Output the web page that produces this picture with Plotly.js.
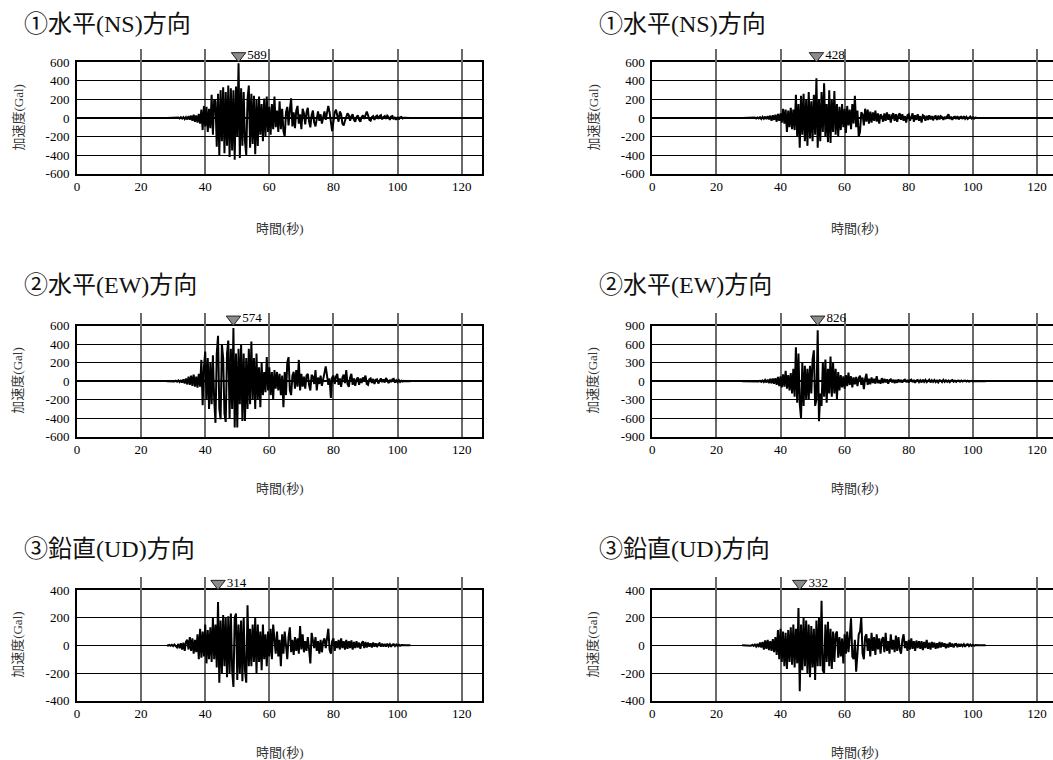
<!DOCTYPE html>
<html><head><meta charset="utf-8">
<script src="https://cdn.plot.ly/plotly-3.0.1.min.js"></script>
<style>html,body{margin:0;padding:0;overflow:hidden;background:#fff}</style>
</head><body><div id="chart" style="width:1060px;height:760px"></div>
<script>
// sampling of the records (seconds)
const T0 = 28.0, DT = 0.4;

// ① 水平(NS) — left record (Gal)
const nsLeft = [
0,0,0,0,0,0,0,2,-3,4,
-5,8,-6,10,-12,9,-15,20,-18,25,
-30,35,-40,28,-50,45,-60,90,-130,130,
-90,120,-150,100,-110,250,-180,200,180,-310,
260,-400,300,-250,330,-380,280,-300,350,-420,
320,-350,300,-450,340,-200,589,-430,320,-300,
280,-250,-400,200,350,-320,260,-280,240,-390,
200,-300,230,-180,150,-250,210,-200,230,-150,
120,-180,150,-120,230,-100,80,-150,180,-120,
100,-140,-200,60,120,-80,90,212,-90,60,
-110,80,130,-60,40,-120,100,50,-70,60,
110,-40,-100,30,80,-50,-90,20,70,-30,
40,-60,20,70,-20,50,130,60,-60,-140,
-40,60,90,30,-40,70,40,-60,-80,-30,
20,50,30,-30,20,40,-20,-40,10,30,
-20,-40,10,30,-10,40,70,30,-20,-30,
10,20,-20,15,25,-10,20,30,-15,10,
20,-10,25,10,-20,15,20,-15,10,-20,
10,-15,8,12,-5,3,2,1,0,0,
0];

// ① 水平(NS) — right record
const nsRight = [
0,0,0,0,0,0,0,0,2,-3,
4,-5,6,-4,8,-10,12,-8,15,-12,
20,-15,25,-30,30,-20,35,-40,45,-30,
50,-50,100,-60,90,-150,80,-100,110,-120,
90,-130,250,-200,150,-320,240,-180,260,-250,
200,-300,280,-220,180,-250,250,-180,428,-320,
200,-250,280,-150,374,-200,150,-260,300,-270,
200,-150,290,-180,150,-200,120,-130,150,-100,
100,-160,130,-80,90,-120,150,-60,240,-100,
80,-200,-150,60,40,-80,100,-40,90,-60,
70,-50,60,-30,80,-40,50,-60,40,20,
-40,50,-30,60,-20,40,-50,30,50,-30,
40,-40,30,50,-20,40,-30,20,-50,30,
40,-30,20,50,-40,30,-20,40,-30,20,
-50,30,20,-30,25,-20,30,-15,20,-25,
15,20,-20,25,-15,20,10,-20,15,-10,
20,40,-10,15,-20,10,15,-10,20,-15,
10,15,-10,20,-8,12,-10,8,15,-5,
8,-6,5,3,-2,1,0,0,0,0,
0];

// ② 水平(EW) — left record
const ewLeft = [
0,0,0,0,0,3,-4,5,-6,8,
-10,12,-15,20,-25,30,-35,50,-40,60,
-50,70,-60,50,-70,80,-60,230,-260,150,
320,-200,250,-300,200,-250,280,-200,-450,300,
490,-300,-410,400,250,-350,-440,300,440,-400,
350,-300,574,-500,300,-500,350,-250,400,-430,
300,-430,250,-300,350,-250,430,-200,250,-300,
300,-200,150,-280,200,-150,100,-120,260,-100,
150,-150,100,-200,120,-80,100,-100,80,-150,
60,-280,100,-150,200,260,-100,-150,60,100,
-80,120,-60,230,-100,80,-60,50,-80,60,
80,-40,-100,70,50,-30,120,-100,40,-30,
60,-50,40,90,160,60,-40,30,-180,40,
60,-30,50,80,-40,30,-60,40,70,-20,
120,-30,-60,40,80,-40,30,-50,20,40,
-40,30,-20,40,20,60,-30,-40,20,30,
-20,25,-30,15,20,-25,10,30,-10,20,
-15,35,10,-20,15,-10,20,25,-15,10,
-10,12,-8,5,-4,3,0,0,0,0,
0];

// ② 水平(EW) — right record
const ewRight = [
0,0,0,0,0,0,0,0,0,0,
3,-4,5,-6,8,-10,12,-15,18,-20,
25,-30,40,-35,45,-40,50,-60,70,-80,
80,-100,110,-90,170,-120,100,-150,130,-200,
200,-250,550,-350,450,-370,-600,300,-400,250,
-300,200,-300,250,-200,350,500,-400,-300,826,
-650,-200,-400,300,-250,350,-350,200,-200,400,
-250,300,-200,200,-290,150,-150,100,-100,80,
-120,100,-80,140,-60,80,-100,60,-50,70,
-80,50,90,-60,60,-130,40,120,-60,40,
-50,60,-30,40,-40,80,-30,20,-40,50,
-30,40,-20,30,-40,20,30,-20,25,-30,
20,-25,30,-15,20,-20,15,25,-15,20,
-20,15,25,-15,20,-25,10,20,-15,15,
-20,25,-10,20,-15,10,25,-20,15,-10,
20,-15,10,-20,15,10,-15,20,-10,15,
-10,12,-15,10,20,-8,10,-12,8,10,
-8,10,-6,8,12,-5,8,-6,5,6,
-4,3,2,0,0,0,0,0,0,0,
0];

// ③ 鉛直(UD) — left record
const udLeft = [
2,-2,3,-3,4,-5,6,-4,-15,10,
-20,15,-30,20,-40,25,40,-30,60,-40,
50,-60,40,-50,80,-100,120,-90,100,-80,
150,-130,110,-100,130,-120,200,-100,150,-160,
314,-270,180,-200,220,-150,200,-230,210,-200,
230,-180,-300,200,230,-250,150,-200,180,-260,
200,-180,-270,290,-150,120,-150,150,-120,200,
-200,150,-120,100,-180,150,-100,80,-150,100,
-80,120,-100,150,60,-60,100,-80,40,-150,
80,-60,100,-40,-100,60,130,-50,40,-70,
60,-40,50,-60,140,-30,80,-50,30,-40,
60,-30,-130,90,40,-20,60,-40,30,-60,
40,-50,30,50,-20,40,120,-30,-60,30,
50,-40,30,-20,40,-30,50,-20,30,-30,
40,-25,30,-20,35,-30,25,-20,30,-15,
20,-25,15,30,-20,25,-15,20,-10,15,
-15,20,-10,15,-12,10,15,-10,12,-8,
10,-8,12,-6,8,-10,6,8,-5,6,
-4,5,-3,2,0,0,0,0,0,0,
0];

// ③ 鉛直(UD) — right record
const udRight = [
0,0,0,0,0,0,2,-3,4,-4,
6,-8,10,-12,20,-15,25,-30,35,-25,
40,-35,30,-40,45,-50,60,-70,110,-100,
120,-120,100,-150,90,-170,110,-120,130,-140,
150,-160,120,-130,270,-332,150,-180,200,-150,
180,-200,150,-230,140,-160,120,-250,180,-150,
200,-150,323,-180,-200,150,-120,170,-150,120,
-170,100,-120,80,100,-90,60,-80,50,-130,
80,-60,100,-50,60,195,-80,-100,40,-190,
-60,80,100,200,-60,-100,60,80,-40,50,
-80,90,-40,60,-70,80,-30,50,-60,40,
60,-50,90,-40,30,-60,80,-30,40,-50,
70,-40,60,-30,-60,40,80,-20,30,-40,
40,-30,50,-25,30,-40,35,-20,30,-25,
30,-35,25,-20,40,-25,20,-30,25,-15,
20,-25,15,-20,25,-15,20,-10,15,-20,
10,-15,20,-10,12,-15,8,10,-12,10,
-8,10,-6,8,-10,6,8,-5,6,-4,
4,-3,2,0,0,0,0,0,0,0,
0];

const records = [nsLeft, nsRight, ewLeft, ewRight, udLeft, udRight];
const panelTitles = ['①水平(NS)方向','①水平(NS)方向','②水平(EW)方向','②水平(EW)方向','③鉛直(UD)方向','③鉛直(UD)方向'];
const yLimits = [600, 600, 600, 900, 400, 400];
const yTickSteps = [200, 200, 200, 300, 200, 200];
const xTickVals = [0, 20, 40, 60, 80, 100, 120];
const xTitleText = '時間(秒)';
const yTitleText = '加速度(Gal)';

// ---- layout geometry (pixels) ----
const W = 1060, H = 760;
const colX = [[77, 482], [652.3, 1057.3]];
const rowY = [[62.3, 173.7], [325.7, 436.7], [590, 700.7]];
const titleX = [22, 597];
const titleY = [24, 285, 549];
const xTitleY = [228, 489, 752];
const yTitleX = [17.5, 592.5];

const SERIF = 'Liberation Serif, Noto Sans CJK JP, serif';
const traces = [];
const layout = {
  width: W, height: H,
  margin: {l: 0, r: 0, t: 0, b: 0},
  paper_bgcolor: '#fff', plot_bgcolor: '#fff',
  showlegend: false,
  font: {family: SERIF, color: '#000', size: 13},
  annotations: []
};

records.forEach((vals, i) => {
  const row = Math.floor(i / 2), col = i % 2;
  const sfx = i === 0 ? '' : String(i + 1);
  const xa = 'x' + sfx, ya = 'y' + sfx;
  const mk = String(i + 7);          // helper axis for the peak marker strip
  const t = vals.map((_, k) => +(T0 + k * DT).toFixed(2));
  traces.push({
    type: 'scatter', mode: 'lines', x: t, y: vals, xaxis: xa, yaxis: ya,
    line: {color: '#000', width: 2}, hoverinfo: 'x+y'
  });
  // peak marker from the data
  let pk = 0;
  vals.forEach((v, k) => { if (Math.abs(v) > Math.abs(vals[pk])) pk = k; });
  traces.push({
    type: 'scatter', mode: 'markers+text', xaxis: xa, yaxis: 'y' + mk,
    x: [t[pk]], y: [0.5],
    text: [String(Math.round(Math.abs(vals[pk])))],
    textposition: 'middle right',
    textfont: {family: SERIF, size: 13, color: '#000'},
    marker: {symbol: 'triangle-down', size: 12.5, color: '#8c8c8c', line: {color: '#222', width: 1}},
    cliponaxis: false, hoverinfo: 'skip'
  });

  const lim = yLimits[i];
  const yVals = [];
  for (let v = -lim; v <= lim; v += yTickSteps[i]) yVals.push(v);

  layout['xaxis' + sfx] = {
    domain: [colX[col][0] / W, colX[col][1] / W],
    anchor: ya, range: [0, 126.35],
    tickmode: 'array', tickvals: xTickVals, ticktext: xTickVals.map(String),
    ticks: '', showgrid: true, gridcolor: '#6a6a6a', gridwidth: 2,
    zeroline: false, showline: true, mirror: true, linecolor: '#000', linewidth: 2,
    tickfont: {family: SERIF, size: 13, color: '#000'}, ticklabelstandoff: 0,
    fixedrange: true
  };
  layout['yaxis' + sfx] = {
    domain: [1 - rowY[row][1] / H, 1 - rowY[row][0] / H],
    anchor: xa, range: [-lim, lim],
    tickmode: 'array', tickvals: yVals, ticktext: yVals.map(String),
    ticks: '', showgrid: true, gridcolor: '#000', gridwidth: 1,
    zeroline: true, zerolinecolor: '#000', zerolinewidth: 1.5,
    showline: true, mirror: true, linecolor: '#000', linewidth: 2,
    tickfont: {family: SERIF, size: 13, color: '#000'}, ticklabelstandoff: 3,
    fixedrange: true
  };
  layout['yaxis' + mk] = {
    domain: [1 - rowY[row][0] / H, 1 - (rowY[row][0] - 13) / H],
    anchor: xa, range: [0, 1], visible: false, fixedrange: true
  };

  layout.annotations.push({
    xref: 'paper', yref: 'paper', x: titleX[col] / W, y: 1 - titleY[row] / H,
    xanchor: 'left', yanchor: 'middle', showarrow: false,
    text: panelTitles[i], font: {family: SERIF, size: 24, color: '#111'}
  });
  layout.annotations.push({
    xref: 'paper', yref: 'paper', x: (colX[col][0] + colX[col][1]) / 2 / W, y: 1 - xTitleY[row] / H,
    xanchor: 'center', yanchor: 'middle', showarrow: false,
    text: xTitleText, font: {family: SERIF, size: 13, color: '#333'}
  });
  layout.annotations.push({
    xref: 'paper', yref: 'paper', x: yTitleX[col] / W, y: 1 - (rowY[row][0] + rowY[row][1]) / 2 / H,
    xanchor: 'center', yanchor: 'middle', showarrow: false, textangle: -90,
    text: yTitleText, font: {family: SERIF, size: 13, color: '#333'}
  });
});

Plotly.newPlot('chart', traces, layout, {displayModeBar: false, staticPlot: true});
</script></body></html>
